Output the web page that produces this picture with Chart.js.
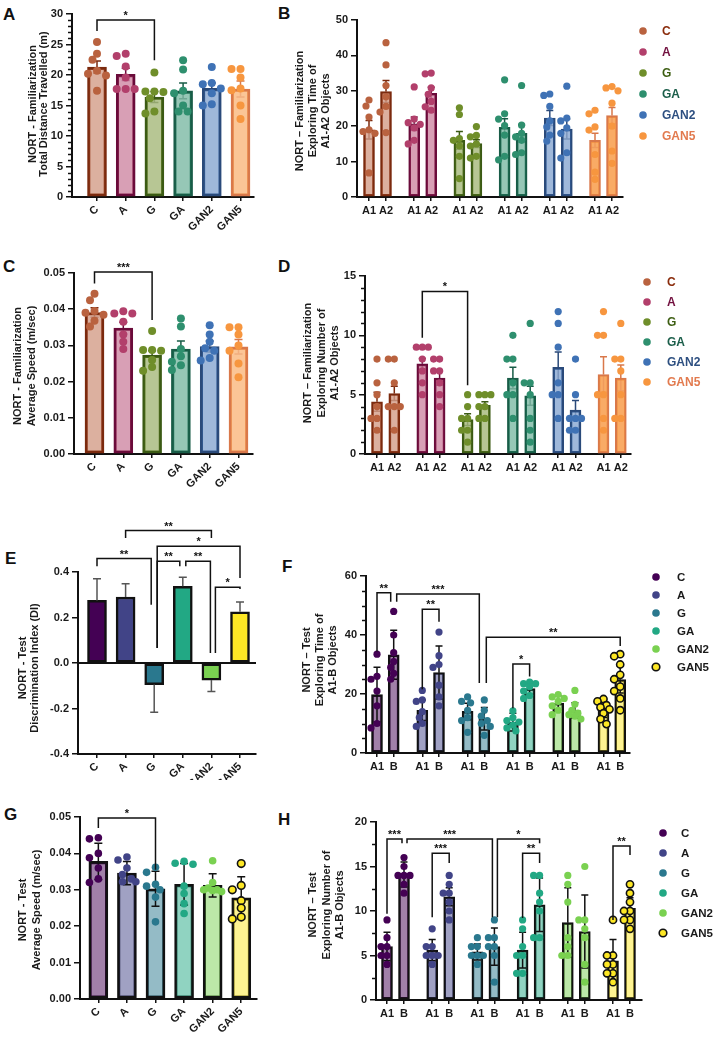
<!DOCTYPE html>
<html><head><meta charset="utf-8">
<script src="https://cdn.jsdelivr.net/npm/chart.js@4.4.1/dist/chart.umd.min.js"></script>
<style>
html,body{margin:0;padding:0;background:#fff}
body{width:715px;height:1038px;position:relative;overflow:hidden;font-family:"Liberation Sans",Arial,sans-serif}
canvas{position:absolute}
.lt{position:absolute;font-weight:bold;font-size:17px;line-height:17px;color:#111;font-family:"Liberation Sans",Arial,sans-serif}
</style></head><body>
<div class="lt" style="left:3px;top:6px">A</div>
<div class="lt" style="left:278px;top:5px">B</div>
<div class="lt" style="left:3px;top:258px">C</div>
<div class="lt" style="left:278px;top:258px">D</div>
<div class="lt" style="left:5px;top:550px">E</div>
<div class="lt" style="left:282px;top:558px">F</div>
<div class="lt" style="left:4px;top:806px">G</div>
<div class="lt" style="left:278px;top:811px">H</div>
<script>
// ---------------- DATA ----------------
const groups = ['C','A','G','GA','GAN2','GAN5'];
const famObjects = ['A1','A2'];
const testObjects = ['A1','B'];

// A: Familiarization total distance (m)
const famDistMean = [21.3, 20.1, 16.4, 17.4, 17.8, 17.7];
const famDistSem  = [1.0, 1.0, 0.9, 1.3, 0.9, 1.3];
const famDistPts = [
  [25.4, 23.5, 22.5, 20.7, 20.2, 19.9, 17.4],
  [23.5, 23.1, 21.4, 19.6, 17.7, 17.7, 17.7],
  [20.4, 17.3, 17.3, 17.2, 16.2, 14.0, 13.7],
  [22.4, 20.9, 17.4, 17.0, 15.0, 14.0, 14.0],
  [21.3, 18.7, 18.5, 17.8, 17.0, 15.2, 15.0],
  [21.0, 21.0, 19.6, 17.8, 17.5, 15.0, 12.8]
];
const sigA = [{a:0, b:2, y:29.0, ya:27.2, yb:22.4, t:'*'}];

// B: Familiarization exploring time of A1 / A2 (s)
const famTimeA1 = [19.0, 20.7, 16.0, 19.7, 22.3, 16.0];
const famTimeA1Sem = [2.6, 1.9, 2.5, 2.4, 2.1, 2.0];
const famTimeA2 = [29.8, 29.3, 15.1, 18.0, 19.2, 23.0];
const famTimeA2Sem = [3.1, 1.7, 1.1, 2.5, 2.8, 2.3];
const famTimeA1Pts = [
  [27.4, 25.7, 22.6, 19.0, 18.5, 18.0, 6.8],
  [31.1, 22.0, 21.0, 20.5, 19.5, 16.0, 15.0],
  [25.2, 23.3, 16.5, 16.0, 14.4, 11.5, 5.2],
  [33.1, 23.5, 22.0, 20.2, 17.5, 11.5, 10.5],
  [29.1, 28.7, 25.6, 21.5, 19.8, 17.5, 15.8],
  [24.5, 23.5, 19.8, 18.9, 12.0, 7.0, 5.0]
];
const famTimeA2Pts = [
  [43.6, 37.3, 31.5, 28.3, 25.6, 24.0, 18.2],
  [35.0, 34.8, 30.8, 29.0, 27.0, 25.5, 24.5],
  [19.9, 17.4, 17.0, 15.0, 14.4, 11.5, 11.0],
  [31.5, 20.3, 18.0, 17.0, 16.0, 12.5, 12.0],
  [31.3, 22.3, 21.5, 19.5, 18.0, 12.5, 11.0],
  [31.2, 30.8, 30.0, 26.5, 20.0, 13.0, 9.5]
];

// C: Familiarization average speed (m/sec)
const famSpeedMean = [0.0391, 0.0348, 0.0273, 0.0290, 0.0297, 0.0296];
const famSpeedSem  = [0.0013, 0.0016, 0.0012, 0.0022, 0.0015, 0.0020];
const famSpeedPts = [
  [0.0443, 0.0425, 0.0395, 0.0390, 0.0385, 0.0368, 0.0352],
  [0.0394, 0.0388, 0.0388, 0.0365, 0.0330, 0.0310, 0.0290],
  [0.0340, 0.0287, 0.0287, 0.0285, 0.0260, 0.0240, 0.0230],
  [0.0374, 0.0352, 0.0290, 0.0270, 0.0255, 0.0245, 0.0232],
  [0.0356, 0.0330, 0.0310, 0.0292, 0.0285, 0.0265, 0.0258],
  [0.0350, 0.0350, 0.0330, 0.0300, 0.0285, 0.0250, 0.0212]
];
const sigC = [{a:0, b:2, y:0.0503, ya:0.0471, yb:0.0370, t:'***'}];

// D: Familiarization exploring number of A1 / A2
const famNumA1 = [4.4, 7.6, 2.9, 6.4, 7.3, 6.7];
const famNumA1Sem = [0.8, 0.45, 0.5, 0.9, 1.3, 1.5];
const famNumA2 = [5.1, 6.4, 4.1, 4.9, 3.7, 6.4];
const famNumA2Sem = [0.6, 0.6, 0.3, 0.8, 0.8, 1.1];
const famNumA1Pts = [
  [8,6,5,4,3,3,2],[9,9,9,8,7,6,5],[5,4,3,3,2,2,1],
  [10,8,8,6,5,5,3],[12,11,9,6,5,5,3],[12,10,10,5,5,3,2]
];
const famNumA2Pts = [
  [8,8,6,4,4,4,2],[8,8,7,7,6,5,4],[5,5,5,4,4,3,3],
  [11,6,6,5,3,2,1],[8,5,3,3,3,2,2],[11,8,8,7,5,3,3]
];
const sigD = [{a:2, b:4, y:13.7, ya:9.8, yb:5.8, t:'*'}];

// E: Test discrimination index
const testDIMean = [0.275, 0.290, -0.095, 0.337, -0.075, 0.225];
const testDIErr  = [0.095, 0.058, 0.122, 0.040, 0.050, 0.043];
const sigE = [
  {a:1, b:4, y:0.582, ya:0.549, yb:0.549, t:'**'},
  {a:2, b:5, y:0.513, ya:0.066, yb:0.374, t:'*', da:3},
  {a:0, b:2, y:0.459, ya:0.425, yb:0.256, t:'**', db:-3},
  {a:2, b:3, y:0.447, ya:0.066, yb:0.425, t:'**', da:3, db:-3},
  {a:3, b:4, y:0.447, ya:0.425, yb:0.044, t:'**', da:3, db:-1},
  {a:4, b:5, y:0.333, ya:0.044, yb:0.325, t:'*', da:4}
];

// F: Test exploring time of A1 / B
const testTimeA1 = [19.8, 14.5, 14.1, 10.5, 16.9, 15.3];
const testTimeA1Sd = [9.3, 3.5, 2.8, 3.0, 2.4, 3.3];
const testTimeB = [33.3, 27.3, 11.6, 21.8, 14.4, 24.9];
const testTimeBSd = [8.3, 9.0, 3.8, 2.0, 2.6, 4.6];
const testTimeA1Pts = [
  [33.5, 26.0, 25.0, 21.0, 16.0, 10.0, 8.5],
  [21.2, 18.0, 17.5, 14.0, 12.0, 10.0, 9.0],
  [19.0, 17.5, 17.0, 14.5, 12.0, 11.0, 7.0],
  [14.3, 12.0, 11.0, 10.5, 9.5, 8.5, 7.5],
  [19.8, 19.0, 18.5, 17.5, 16.0, 14.5, 13.0],
  [18.3, 17.5, 16.2, 15.5, 14.8, 13.5, 11.5, 9.8]
];
const testTimeBPts = [
  [48, 40, 34, 31, 29, 27, 25],
  [41, 33, 30, 29, 23, 19, 16],
  [18, 14.5, 12.5, 11, 10, 9, 6],
  [24.0, 23.5, 23.5, 22.5, 21.0, 19.5, 18.5],
  [21.2, 16.5, 14.5, 13.5, 13.0, 12.5, 11.5],
  [33.5, 32.8, 30.0, 26.5, 25.0, 22.5, 21.0, 18.5, 14.5]
];
const sigF = [
  {a:0, b:1, y:54.3, ya:34.4, yb:51.3, t:'**', db:-3},
  {a:1, b:5, y:53.9, ya:51.3, yb:23.7, t:'***', da:3, db:-5},
  {a:2, b:3, y:48.7, ya:21.6, yb:44.5, t:'**'},
  {a:5, b:11, y:39.2, ya:23.7, yb:36.3, t:'**', da:2},
  {a:6, b:7, y:30.2, ya:15.2, yb:25.9, t:'*'}
];

// G: Test average speed
const testSpeedMean = [0.0378, 0.0346, 0.0303, 0.0315, 0.0312, 0.0278];
const testSpeedSd   = [0.0050, 0.0032, 0.0048, 0.0057, 0.0032, 0.0058];
const testSpeedPts = [
  [0.0443, 0.0440, 0.0400, 0.0388, 0.0360, 0.0330, 0.0320],
  [0.0390, 0.0382, 0.0360, 0.0342, 0.0330, 0.0322, 0.0322],
  [0.0362, 0.0348, 0.0315, 0.0310, 0.0300, 0.0280, 0.0212],
  [0.0378, 0.0373, 0.0370, 0.0310, 0.0290, 0.0262, 0.0235],
  [0.0380, 0.0320, 0.0305, 0.0300, 0.0300, 0.0298, 0.0295],
  [0.0372, 0.0312, 0.0300, 0.0270, 0.0250, 0.0225, 0.0220]
];
const sigG = [{a:0, b:2, y:0.0497, ya:0.0470, yb:0.0355, t:'*'}];

// H: Test exploring number of A1 / B
const testNumA1 = [6.0, 5.6, 5.4, 5.6, 8.7, 4.4];
const testNumA1Sd = [1.6, 1.2, 0.9, 2.0, 3.9, 2.4];
const testNumB = [14.1, 11.6, 6.0, 10.7, 7.7, 10.3];
const testNumBSd = [1.4, 1.0, 2.1, 3.0, 4.1, 1.2];
const testNumA1Pts = [
  [9,7,6,6,5,5,4],[8,6,6,5,5,5,4],[7,6,6,5,5,5,4],
  [9,8,6,5,5,3,3],[14,13,11,7,6,5,5],[9,5,5,4,4,3,3,2]
];
const testNumBPts = [
  [16,15,14,14,14,13,12],[14,13,12,12,11,10,9],[9,7,7,6,6,5,2],
  [14,14,12,11,10,7,7],[15,9,9,8,7,4,2],[13,12,11,10,10,9,9,8]
];
const sigH = [
  {a:0, b:1, y:18.1, ya:9.7, yb:17.6, t:'***', db:-2},
  {a:1, b:5, y:18.1, ya:17.6, yb:9.3, t:'***', da:3, db:-2},
  {a:2, b:3, y:16.5, ya:9.3, yb:15.4, t:'***'},
  {a:5, b:7, y:18.1, ya:9.3, yb:17.6, t:'*', da:3},
  {a:6, b:7, y:16.5, ya:9.2, yb:15.4, t:'**'},
  {a:10, b:11, y:17.3, ya:9.0, yb:16.3, t:'**'}
];

// ---------------- STYLE ----------------
const FONT = '"Liberation Sans", Arial, sans-serif';
const famPoint  = ['#b9623f','#b23f6b','#6f8e2a','#2e8f6e','#3f72b5','#f7963f'];
const famBorder = ['#7b2a0e','#6a0b3a','#3b5a14','#185c47','#2a4a7a','#d9784a'];
const famLegend = ['#8a2c0c','#72103f','#3d5e12','#1b5e4a','#2d4f80','#e27a4e'];
const viridis   = ['#440154','#414487','#2a788e','#22a884','#7ad151','#fde725'];
function alpha(hex,a){const n=parseInt(hex.slice(1),16);return `rgba(${n>>16},${(n>>8)&255},${n&255},${a})`;}
const inter = (a,b)=>a.flatMap((v,i)=>[v,b[i]]);
const dup = a=>a.flatMap(v=>[v,v]);

Chart.defaults.font.family = FONT;
Chart.defaults.color = '#1a1a1a';

// deterministic beeswarm-style horizontal spread (pixels) for points sharing a bar
function spread(vals,toPy,d,maxOff){
  const idx=vals.map((v,i)=>i).sort((a,b)=>vals[b]-vals[a]);
  const placed=[], out=new Array(vals.length).fill(0);
  const step=maxOff/2;
  for(const i of idx){
    const y=toPy(vals[i]);
    let best=0,bestD=-1;
    for(const c of [0,-1,1,-2,2]){
      const x=c*step;
      const md=placed.length?Math.min(...placed.map(q=>Math.hypot(q.x-x,q.y-y))):1e9;
      if(md>=d*0.9){best=x;bestD=1e9;break;}
      if(md>bestD){bestD=md;best=x;}
    }
    out[i]=best;placed.push({x:best,y});
  }
  return out;
}

function makeChart(p){
  const B=p.box, A=p.area;
  const cv=document.createElement('canvas');
  cv.width=B.w; cv.height=B.h;
  Object.assign(cv.style,{left:B.x+'px',top:B.y+'px',width:B.w+'px',height:B.h+'px'});
  document.body.appendChild(cv);
  const xmin=(A.l-p.firstPx)/p.unitPx, xmax=(A.r-p.firstPx)/p.unitPx;
  const barX=p.barX;
  const toPy=v=>A.b-(v-p.ymin)/(p.ymax-p.ymin)*(A.b-A.t);
  const datasets=[{
    type:'bar', order:2, clip:false,
    data:barX.map((x,i)=>({x,y:p.means[i]})),
    backgroundColor:p.fills, borderColor:p.borders, borderWidth:p.bw,
    borderSkipped:false, barThickness:p.barW
  }];
  if(p.points){
    p.pointSets.forEach(ps=>{
      const data=[];
      ps.bars.forEach(bi=>{
        const vals=p.points[bi];
        const offs=spread(vals,toPy,p.ptR*2,p.maxOff);
        vals.forEach((v,k)=>data.push({x:barX[bi]+offs[k]/p.unitPx,y:v}));
      });
      datasets.push({type:'scatter',order:1,clip:false,data,
        pointRadius:p.ptR,pointHoverRadius:p.ptR,
        backgroundColor:ps.fill,borderColor:ps.stroke,
        pointBackgroundColor:ps.fill,pointBorderColor:ps.stroke,pointBorderWidth:ps.sw});
    });
  }
  const majors=[];
  {const n=Math.round((p.ymax-p.ymin)/p.major);for(let k=0;k<=n;k++)majors.push(+(p.ymin+k*p.major).toFixed(10));}
  const deco={
    id:'deco',
    beforeDatasetsDraw(chart){
      if(!p.zeroLine)return;
      const ctx=chart.ctx,y=chart.scales.y.getPixelForValue(0),ca=chart.chartArea;
      ctx.save();ctx.strokeStyle='#111';ctx.lineWidth=2;ctx.beginPath();ctx.moveTo(ca.left,y);ctx.lineTo(ca.right,y);ctx.stroke();ctx.restore();
    },
    afterDatasetDraw(chart,args){
      if(args.index!==0)return;
      const ctx=chart.ctx, ys=chart.scales.y, meta=chart.getDatasetMeta(0);
      meta.data.forEach((el,i)=>{
        const m=p.means[i], e=p.errs[i], x=el.x;
        const col=p.errColor||p.borders[i];
        ctx.save();ctx.lineWidth=p.errW;ctx.strokeStyle=col;
        const seg=(v2,al)=>{ctx.globalAlpha=al;const y1=ys.getPixelForValue(m),y2=ys.getPixelForValue(v2);
          ctx.beginPath();ctx.moveTo(x,y1);ctx.lineTo(x,y2);ctx.moveTo(x-p.cap,y2);ctx.lineTo(x+p.cap,y2);ctx.stroke();};
        if(p.errMode==='sem'){seg(m+e,1);seg(m-e,0.3);}
        else if(p.errMode==='sd'){seg(m+e,1);seg(m-e,1);}
        else {seg(m+(m>=0?1:-1)*e,1);}
        ctx.restore();
      });
    },
    afterDraw(chart){
      const ctx=chart.ctx, ys=chart.scales.y, xs=chart.scales.x, ca=chart.chartArea;
      ctx.save();
      if(p.minor){
        ctx.strokeStyle='#111';ctx.lineWidth=1.5;
        const n=Math.round((p.ymax-p.ymin)/p.minor);
        for(let k=0;k<=n;k++){
          const v=p.ymin+k*p.minor;const r=v/p.major;
          if(Math.abs(r-Math.round(r))<1e-6)continue;
          const y=Math.round(ys.getPixelForValue(v))+0.5;
          ctx.beginPath();ctx.moveTo(ca.left-4,y);ctx.lineTo(ca.left,y);ctx.stroke();
        }
      }
      ctx.font='bold 11px '+FONT;ctx.fillStyle='#1a1a1a';ctx.textAlign='center';ctx.textBaseline='middle';
      p.title.lines.forEach((t,i)=>{ctx.save();ctx.translate(p.title.xs[i]-B.x,p.title.cy-B.y);ctx.rotate(-Math.PI/2);ctx.fillText(t,0,0);ctx.restore();});
      if(p.legend){
        const L=p.legend;
        ctx.font='bold '+L.size+'px '+FONT;ctx.textAlign='left';ctx.textBaseline='middle';
        L.labels.forEach((t,i)=>{
          const y=L.y0+i*L.dy-B.y;
          ctx.beginPath();ctx.arc(L.dotX-B.x,y,L.r,0,Math.PI*2);
          ctx.fillStyle=L.fill[i];ctx.fill();
          if(L.sw[i]){ctx.lineWidth=L.sw[i];ctx.strokeStyle=L.stroke[i];ctx.stroke();}
          ctx.fillStyle=L.text[i];ctx.fillText(t,L.textX-B.x,y+0.5);
        });
      }
      ctx.strokeStyle='#111';ctx.lineWidth=1.5;ctx.fillStyle='#111';
      ctx.font='bold 11px '+FONT;ctx.textAlign='center';ctx.textBaseline='alphabetic';
      (p.sig||[]).forEach(s=>{
        const xa=xs.getPixelForValue(barX[s.a])+(s.da||0), xb=xs.getPixelForValue(barX[s.b])+(s.db||0);
        const y=ys.getPixelForValue(s.y);
        ctx.beginPath();ctx.moveTo(xa,ys.getPixelForValue(s.ya));ctx.lineTo(xa,y);ctx.lineTo(xb,y);ctx.lineTo(xb,ys.getPixelForValue(s.yb));ctx.stroke();
        ctx.fillText(s.t,(xa+xb)/2,y-1);
      });
      ctx.restore();
    }
  };
  new Chart(cv,{
    type:'bar',
    data:{datasets},
    options:{
      responsive:false,animation:false,devicePixelRatio:1,events:[],
      layout:{padding:{left:0,bottom:0,top:A.t-B.y,right:B.x+B.w-A.r}},
      plugins:{legend:{display:false},tooltip:{enabled:false}},
      scales:{
        x:{type:'linear',min:xmin,max:xmax,offset:false,
          afterBuildTicks:s=>{s.ticks=barX.map(v=>({value:v}));},
          afterFit:s=>{s.height=B.y+B.h-A.b;},
          grid:{display:true,offset:false,drawOnChartArea:false,drawTicks:true,tickLength:4,lineWidth:1.5,color:'#111'},
          border:{display:true,color:'#111',width:2},
          ticks:{autoSkip:false,maxRotation:p.rot,minRotation:p.rot,padding:p.rot?2:3,
            font:{size:11,weight:'bold'},color:'#1a1a1a',
            callback:(v,i)=>p.xLabels[i]}
        },
        y:{type:'linear',min:p.ymin,max:p.ymax,
          afterBuildTicks:s=>{s.ticks=majors.map(v=>({value:v}));},
          afterFit:s=>{s.width=A.l-B.x;},
          grid:{display:true,drawOnChartArea:false,drawTicks:true,tickLength:6,lineWidth:1.5,color:'#111'},
          border:{display:true,color:'#111',width:2},
          ticks:{padding:3,font:{size:11,weight:'bold'},color:'#1a1a1a',
            callback:v=>(+v).toFixed(p.dec)}
        }
      }
    },
    plugins:[deco]
  });
}

// ---------------- PANELS ----------------
const singleX=[0,1,2,3,4,5];
function pairX(step){return groups.flatMap((g,i)=>[i*step,i*step+1]);}

const famPtSets=groups.map((g,i)=>({bars:[i],fill:famPoint[i],stroke:famPoint[i],sw:0}));
const famPairSets=groups.map((g,i)=>({bars:[2*i,2*i+1],fill:famPoint[i],stroke:famPoint[i],sw:0}));
const virPtSets=groups.map((g,i)=>({bars:[i],fill:viridis[i],stroke:i===5?'#111':viridis[i],sw:i===5?1.6:0}));
const virPairSets=groups.map((g,i)=>({bars:[2*i,2*i+1],fill:viridis[i],stroke:i===5?'#111':viridis[i],sw:i===5?1.6:0}));

const famLegendCfg=(dotX,textX,y0,dy)=>({labels:groups,dotX,textX,y0,dy,r:3.8,size:12,
  fill:famPoint,stroke:famPoint,sw:groups.map(()=>0),text:famLegend});
const virLegendCfg=(dotX,textX,y0,dy)=>({labels:groups,dotX,textX,y0,dy,r:3.8,size:11.5,
  fill:viridis,stroke:groups.map((g,i)=>i===5?'#111':viridis[i]),sw:groups.map((g,i)=>i===5?1.6:0),text:groups.map(()=>'#1a1a1a')});

const famFill=famPoint.map((c,i)=>alpha(c,i===5?0.55:0.5));
const famFillB=famPoint.map((c,i)=>alpha(c,i===5?0.8:0.5));

// A
makeChart({box:{x:0,y:0,w:258,h:250},area:{l:72,t:14,r:254,b:197},
  firstPx:97,unitPx:28.7,barX:singleX,xLabels:groups,rot:45,
  ymin:0,ymax:30,major:5,minor:1,dec:0,
  means:famDistMean,errs:famDistSem,errMode:'sem',errW:1.5,cap:4,
  fills:famFill,borders:famBorder,bw:2.5,barW:19,
  points:famDistPts,pointSets:famPtSets,ptR:4,maxOff:9,
  title:{lines:['NORT - Familiarization','Total Distance Travelled (m)'],xs:[33,44],cy:104},
  sig:sigA});

// B
makeChart({box:{x:258,y:0,w:457,h:250},area:{l:357,t:20,r:623,b:197},
  firstPx:369,unitPx:17,barX:pairX(45.2/17),xLabels:groups.flatMap(()=>famObjects),rot:0,
  ymin:0,ymax:50,major:10,dec:0,
  means:inter(famTimeA1,famTimeA2),errs:inter(famTimeA1Sem,famTimeA2Sem),errMode:'sem',errW:1.5,cap:3.5,
  fills:dup(famFillB),borders:dup(famBorder),bw:2,barW:11,
  points:inter(famTimeA1Pts,famTimeA2Pts),pointSets:famPairSets,ptR:3.6,maxOff:6,
  title:{lines:['NORT – Familiarization','Exploring Time of','A1-A2 Objects'],xs:[300,313,326],cy:111},
  legend:famLegendCfg(643,662,31,21)});

// C
makeChart({box:{x:0,y:255,w:258,h:250},area:{l:74,t:273,r:253,b:454},
  firstPx:94.5,unitPx:28.8,barX:singleX,xLabels:groups,rot:45,
  ymin:0,ymax:0.05,major:0.01,dec:2,
  means:famSpeedMean,errs:famSpeedSem,errMode:'sem',errW:1.5,cap:4,
  fills:famFill,borders:famBorder,bw:2.5,barW:19,
  points:famSpeedPts,pointSets:famPtSets,ptR:4,maxOff:9,
  title:{lines:['NORT - Familiarization','Average Speed (m/sec)'],xs:[18,32],cy:366},
  sig:sigC});

// D
makeChart({box:{x:258,y:255,w:457,h:250},area:{l:365,t:276,r:631,b:454},
  firstPx:377,unitPx:17.3,barX:pairX(45.3/17.3),xLabels:groups.flatMap(()=>famObjects),rot:0,
  ymin:0,ymax:15,major:5,minor:1,dec:0,
  means:inter(famNumA1,famNumA2),errs:inter(famNumA1Sem,famNumA2Sem),errMode:'sem',errW:1.5,cap:3.5,
  fills:dup(famFillB),borders:dup(famBorder),bw:2,barW:11,
  points:inter(famNumA1Pts,famNumA2Pts),pointSets:famPairSets,ptR:3.6,maxOff:6,
  title:{lines:['NORT – Familiarization','Exploring Number of','A1-A2 Objects'],xs:[308,322,335],cy:363},
  legend:famLegendCfg(647,667,282,20),
  sig:sigD});

// E
makeChart({box:{x:0,y:512,w:262,h:268},area:{l:78,t:572,r:256,b:754},
  firstPx:97,unitPx:28.6,barX:singleX,xLabels:groups,rot:45,
  ymin:-0.4,ymax:0.4,major:0.2,dec:1,zeroLine:true,
  means:testDIMean,errs:testDIErr,errMode:'away',errColor:'#555',errW:1.5,cap:4,
  fills:viridis,borders:viridis.map(()=>'#111'),bw:2.5,barW:19,
  title:{lines:['NORT - Test','Discrimination Index (DI)'],xs:[23,35],cy:668},
  sig:sigE});

// F
makeChart({box:{x:262,y:540,w:453,h:240},area:{l:366,t:576,r:630,b:753},
  firstPx:377,unitPx:16.7,barX:pairX(45.3/16.7),xLabels:groups.flatMap(()=>testObjects),rot:0,
  ymin:0,ymax:60,major:20,minor:5,dec:0,
  means:inter(testTimeA1,testTimeB),errs:inter(testTimeA1Sd,testTimeBSd),errMode:'sd',errColor:'#111',errW:1.5,cap:3.5,
  fills:dup(viridis.map(c=>alpha(c,0.5))),borders:dup(viridis.map(()=>'#111')),bw:2,barW:11,
  points:inter(testTimeA1Pts,testTimeBPts),pointSets:virPairSets,ptR:3.6,maxOff:6,
  title:{lines:['NORT – Test','Exploring Time of','A1-B Objects'],xs:[307,320,333],cy:660},
  legend:virLegendCfg(656,677,577,18),
  sig:sigF});

// G
makeChart({box:{x:0,y:790,w:262,h:248},area:{l:80,t:817,r:258,b:999},
  firstPx:98.5,unitPx:28.8,barX:singleX,xLabels:groups,rot:45,
  ymin:0,ymax:0.05,major:0.01,dec:2,
  means:testSpeedMean,errs:testSpeedSd,errMode:'sd',errColor:'#111',errW:1.5,cap:4,
  fills:viridis.map(c=>alpha(c,0.5)),borders:viridis.map(()=>'#111'),bw:2.5,barW:19,
  points:testSpeedPts,pointSets:virPtSets,ptR:3.8,maxOff:9,
  title:{lines:['NORT - Test','Average Speed (m/sec)'],xs:[23,37],cy:910},
  sig:sigG});

// H
makeChart({box:{x:262,y:790,w:453,h:248},area:{l:376,t:822,r:642,b:1000},
  firstPx:387,unitPx:17,barX:pairX(45.2/17),xLabels:groups.flatMap(()=>testObjects),rot:0,
  ymin:0,ymax:20,major:5,minor:2.5,dec:0,
  means:inter(testNumA1,testNumB),errs:inter(testNumA1Sd,testNumBSd),errMode:'sd',errColor:'#111',errW:1.5,cap:3.5,
  fills:dup(viridis.map(c=>alpha(c,0.5))),borders:dup(viridis.map(()=>'#111')),bw:2,barW:11,
  points:inter(testNumA1Pts,testNumBPts),pointSets:virPairSets,ptR:3.6,maxOff:6,
  title:{lines:['NORT – Test','Exploring Number of','A1-B Objects'],xs:[313,327,340],cy:905},
  legend:virLegendCfg(663,681,833,20),
  sig:sigH});
</script>
</body></html>
